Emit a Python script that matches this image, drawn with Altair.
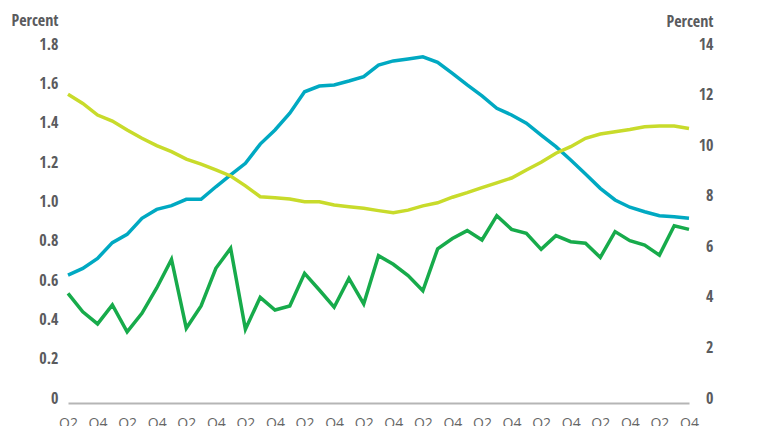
import json
import altair as alt
import pandas as pd

# Quarterly observations (43 quarters, Q2 ... Q4)
blue_left = [0.625, 0.659, 0.710, 0.790, 0.832, 0.914, 0.959, 0.978, 1.010, 1.010,
             1.074, 1.134, 1.193, 1.291, 1.363, 1.448, 1.557, 1.586, 1.592, 1.612,
             1.634, 1.693, 1.714, 1.724, 1.735, 1.707, 1.651, 1.592, 1.536, 1.473,
             1.439, 1.397, 1.337, 1.278, 1.210, 1.139, 1.066, 1.007, 0.970, 0.947,
             0.927, 0.922, 0.914]
yellow_right = [12.01, 11.65, 11.19, 10.95, 10.60, 10.27, 9.98, 9.74, 9.45, 9.25,
                9.02, 8.78, 8.39, 7.96, 7.92, 7.87, 7.76, 7.76, 7.63, 7.56,
                7.50, 7.41, 7.33, 7.43, 7.60, 7.72, 7.94, 8.12, 8.32, 8.51,
                8.70, 9.02, 9.32, 9.68, 9.94, 10.27, 10.44, 10.53, 10.62, 10.73,
                10.76, 10.76, 10.66]
green_right = [4.14, 3.41, 2.93, 3.68, 2.62, 3.35, 4.35, 5.48, 2.76, 3.64,
               5.13, 5.92, 2.72, 3.98, 3.48, 3.64, 4.93, 4.27, 3.59, 4.73,
               3.72, 5.63, 5.29, 4.84, 4.24, 5.90, 6.31, 6.62, 6.25, 7.21,
               6.67, 6.51, 5.88, 6.42, 6.18, 6.12, 5.56, 6.58, 6.22, 6.05,
               5.65, 6.81, 6.67]
tick_labels = ["Q2", "Q4"] * 11
left_ticks = [0, 0.2, 0.4, 0.6, 0.8, 1.0, 1.2, 1.4, 1.6, 1.8]
right_ticks = [0, 2, 4, 6, 8, 10, 12, 14]

n = len(blue_left)
idx = list(range(n))
df_left = pd.DataFrame({"i": idx, "v": blue_left})
df_right = pd.DataFrame({
    "i": idx * 2,
    "v": yellow_right + green_right,
    "s": ["yellow"] * n + ["green"] * n,
})

LABEL_FONT = "Open Sans Condensed"
GRAY = "#5a5b5e"

x_enc = alt.X(
    "i:Q",
    scale=alt.Scale(domain=[0, n - 1], nice=False, zero=False),
    axis=alt.Axis(
        title=None,
        values=list(range(0, n, 2)),
        labelExpr=json.dumps(tick_labels) + "[round(datum.value / 2)]",
        grid=False, ticks=False, domain=True,
        domainColor="#b5b5b5", domainWidth=2, offset=5,
        labelFont="Open Sans", labelFontSize=14, labelColor="#666666",
        labelPadding=13, labelBaseline="top", labelFlush=False,
    ),
)

left = alt.Chart(df_left).mark_line(color="#00a9c2", strokeWidth=3.5).encode(
    x=x_enc,
    y=alt.Y(
        "v:Q",
        scale=alt.Scale(domain=[0, 1.8], nice=False),
        axis=alt.Axis(
            orient="left", values=left_ticks,
            labelExpr="datum.value == 0 ? '0' : format(datum.value, '.1f')",
            grid=False, ticks=False, domain=False,
            labelFont=LABEL_FONT, labelFontWeight="bold", labelFontSize=16,
            labelColor=GRAY, labelPadding=10,
            title="Percent", titleAngle=0, titleAlign="right", titleBaseline="middle",
            titleX=-10, titleY=-24, titleFont=LABEL_FONT, titleFontWeight="bold",
            titleFontSize=16, titleColor=GRAY,
        ),
    ),
)

right = alt.Chart(df_right).mark_line(strokeWidth=3.5).encode(
    x=x_enc,
    y=alt.Y(
        "v:Q",
        scale=alt.Scale(domain=[0, 14], nice=False),
        axis=alt.Axis(
            orient="right", values=right_ticks, format="d",
            grid=False, ticks=False, domain=False,
            labelFont=LABEL_FONT, labelFontWeight="bold", labelFontSize=16,
            labelColor=GRAY, labelPadding=24, labelAlign="right",
            title="Percent", titleAngle=0, titleAlign="right", titleBaseline="middle",
            titleX=24, titleY=-23, titleFont=LABEL_FONT, titleFontWeight="bold",
            titleFontSize=16, titleColor=GRAY,
        ),
    ),
    color=alt.Color("s:N", scale=alt.Scale(domain=["yellow", "green"],
                                           range=["#c8db2b", "#17ab4b"]), legend=None),
    detail="s:N",
)

chart = alt.layer(left, right).resolve_scale(y="independent").properties(
    width=621, height=354,
    autosize=alt.AutoSizeParams(type="none"),
    padding={"left": 60, "top": 36, "right": 61, "bottom": 30},
).configure_view(stroke=None)

chart.save("out.html", embed_options={"renderer": "svg", "actions": False})
